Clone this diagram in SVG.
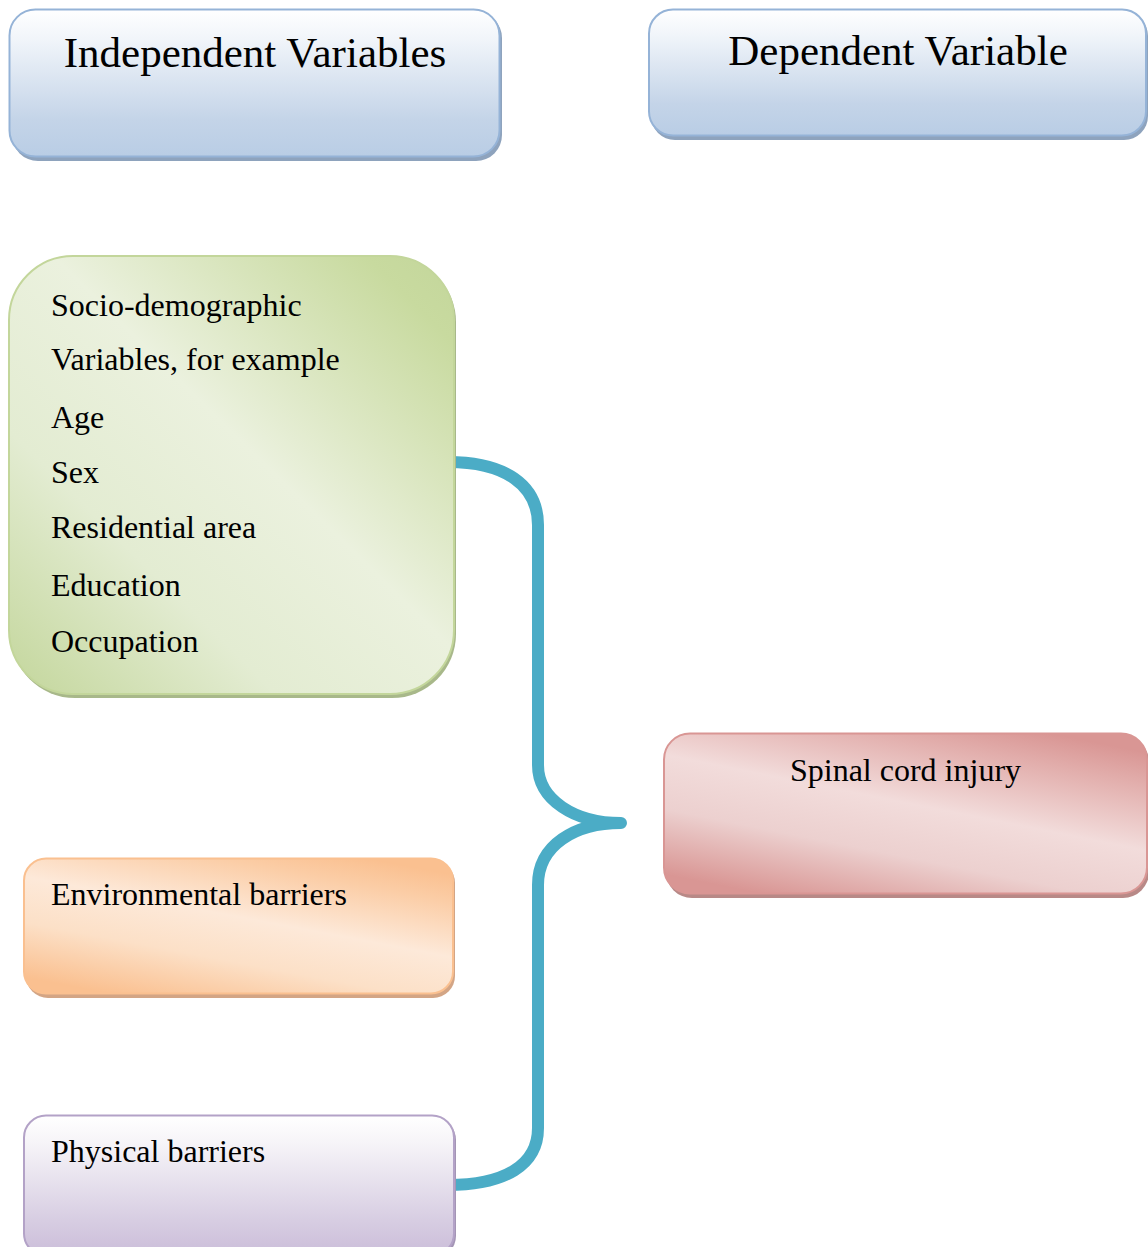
<svg xmlns="http://www.w3.org/2000/svg" width="1148" height="1247" viewBox="0 0 1148 1247">
<defs>
<linearGradient id="gBlue" x1="0" y1="0" x2="0" y2="1">
<stop offset="0" stop-color="#ffffff"/><stop offset="0.2" stop-color="#f1f5fa"/><stop offset="0.75" stop-color="#c4d4e8"/><stop offset="1" stop-color="#b9cde5"/>
</linearGradient>
<linearGradient id="gPurple" x1="0" y1="0" x2="0" y2="1">
<stop offset="0" stop-color="#ffffff"/><stop offset="0.2" stop-color="#f6f4f8"/><stop offset="0.75" stop-color="#d7cde2"/><stop offset="1" stop-color="#cbbdd9"/>
</linearGradient>
<linearGradient id="gGreen" x1="1" y1="0" x2="0" y2="1">
<stop offset="0" stop-color="#c3d69b"/><stop offset="0.1" stop-color="#c8da9f"/><stop offset="0.45" stop-color="#ebf1de"/><stop offset="0.7" stop-color="#e3ecd2"/><stop offset="1" stop-color="#c3d69b"/>
</linearGradient>
<linearGradient id="gOrange" x1="0.8" y1="0" x2="0.2" y2="1">
<stop offset="0" stop-color="#fac090"/><stop offset="0.15" stop-color="#fbcda6"/><stop offset="0.45" stop-color="#fde9d9"/><stop offset="0.7" stop-color="#fce0c7"/><stop offset="1" stop-color="#fac090"/>
</linearGradient>
<linearGradient id="gPink" x1="0.8" y1="0" x2="0.2" y2="1">
<stop offset="0" stop-color="#d99694"/><stop offset="0.15" stop-color="#e2aeac"/><stop offset="0.45" stop-color="#f2dcdb"/><stop offset="0.7" stop-color="#ecd0cf"/><stop offset="1" stop-color="#d99694"/>
</linearGradient>
</defs>
<style>
text{font-family:"Liberation Serif","Times New Roman",serif;fill:#000}
.h{font-size:43px}
.b{font-size:32px}
.conn{fill:none;stroke:#4bacc6;stroke-width:12;stroke-linecap:round;stroke-linejoin:round}
</style>
<g id="connectors">
<path class="conn" d="M448,462 C505,462 538,485 538,525 L538,765 C538,800 575,823 621,823 C575,823 538,845 538,885 L538,1128 C538,1165 505,1185 448,1185"/>
</g>
<g id="independent">
<rect x="12" y="12" width="490" height="149" rx="26" fill="#8ea3bd"/>
<rect x="9.5" y="9.5" width="490" height="147" rx="26" fill="url(#gBlue)" stroke="#95b3d7" stroke-width="2"/>
<text class="h" x="255" y="67" text-anchor="middle">Independent Variables</text>
</g>
<g id="dependent">
<rect x="651" y="12" width="497" height="128" rx="24" fill="#8ea3bd"/>
<rect x="649" y="9.5" width="497" height="126" rx="24" fill="url(#gBlue)" stroke="#95b3d7" stroke-width="2"/>
<text class="h" x="898" y="65" text-anchor="middle">Dependent Variable</text>
</g>
<g id="sociodemographic">
<rect x="11" y="258" width="445" height="440" rx="64" fill="#a8b88a"/>
<rect x="9" y="256" width="445" height="438" rx="64" fill="url(#gGreen)" stroke="#c3d69b" stroke-width="2"/>
<text class="b" x="51" y="316">Socio-demographic</text>
<text class="b" x="51" y="370">Variables, for example</text>
<text class="b" x="51" y="428">Age</text>
<text class="b" x="51" y="483">Sex</text>
<text class="b" x="51" y="538">Residential area</text>
<text class="b" x="51" y="596">Education</text>
<text class="b" x="51" y="652">Occupation</text>
</g>
<g id="environmental">
<rect x="26" y="861" width="429" height="137" rx="22" fill="#d3a585"/>
<rect x="24" y="858.5" width="429" height="135" rx="22" fill="url(#gOrange)" stroke="#fac090" stroke-width="2"/>
<text class="b" x="51" y="905">Environmental barriers</text>
</g>
<g id="physical">
<rect x="26" y="1118" width="430" height="140" rx="22" fill="#a495b5"/>
<rect x="24" y="1115.5" width="430" height="140" rx="22" fill="url(#gPurple)" stroke="#b3a2c7" stroke-width="2"/>
<text class="b" x="51" y="1162">Physical barriers</text>
</g>
<g id="spinal">
<rect x="666" y="736" width="483" height="162" rx="26" fill="#b88987"/>
<rect x="664" y="733.5" width="483" height="160" rx="26" fill="url(#gPink)" stroke="#d99694" stroke-width="2"/>
<text class="b" x="905.5" y="781" text-anchor="middle">Spinal cord injury</text>
</g>
</svg>
